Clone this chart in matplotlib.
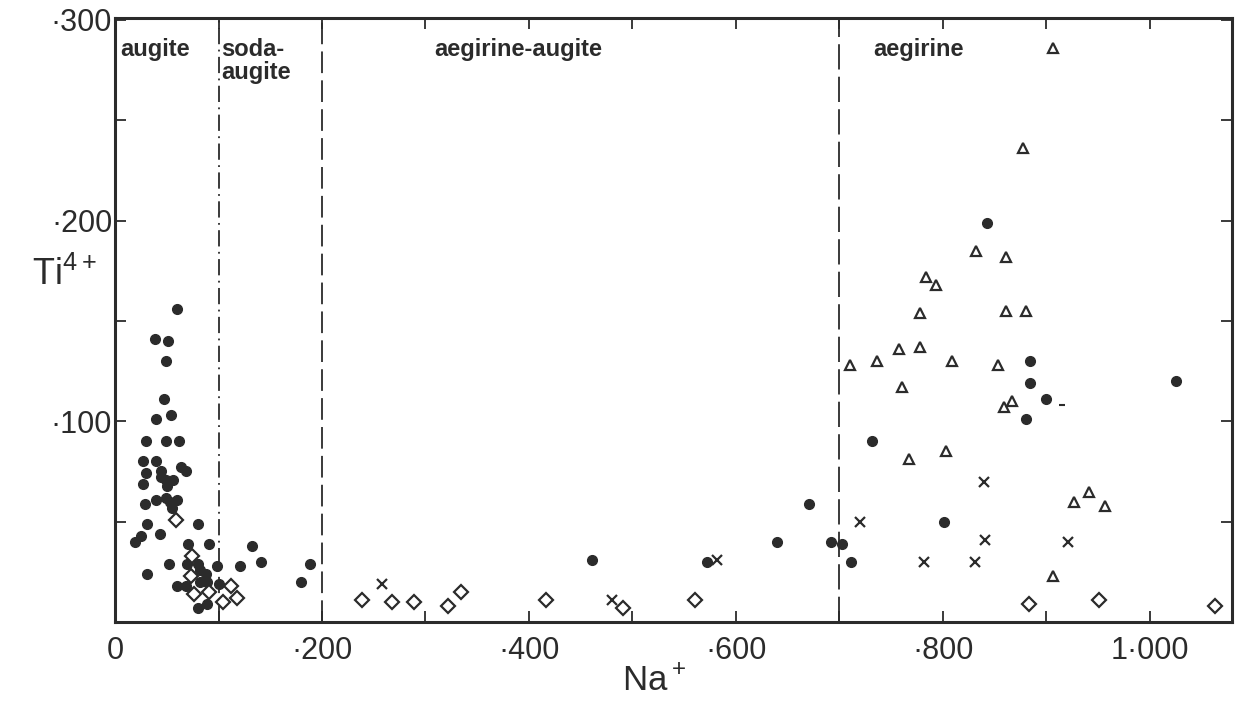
import matplotlib
matplotlib.use("Agg")
import matplotlib.pyplot as plt
from matplotlib.ticker import FixedLocator, MultipleLocator

plt.rcParams["font.family"] = ["Liberation Sans", "DejaVu Sans"]
plt.rcParams["mathtext.default"] = "regular"

ink = "#2b2b2b"

# filled circles
circ_na = [0.060, 0.039, 0.051, 0.049, 0.047, 0.040, 0.054, 0.030, 0.049, 0.062,
           0.027, 0.040, 0.030, 0.044, 0.064, 0.069, 0.027, 0.044, 0.049, 0.056,
           0.050, 0.029, 0.040, 0.049, 0.053, 0.060, 0.055, 0.080, 0.031, 0.025,
           0.019, 0.043, 0.071, 0.091, 0.132, 0.031, 0.052, 0.070, 0.080, 0.099,
           0.121, 0.141, 0.188, 0.180, 0.082, 0.089, 0.100, 0.069, 0.060, 0.080,
           0.089, 0.088, 0.082,
           0.461, 0.572, 0.640, 0.671, 0.692, 0.702, 0.711, 0.731, 0.801, 0.880,
           0.900, 0.843, 0.884, 0.884, 1.025]
circ_ti = [0.156, 0.141, 0.140, 0.130, 0.111, 0.101, 0.103, 0.090, 0.090, 0.090,
           0.080, 0.080, 0.074, 0.075, 0.077, 0.075, 0.069, 0.072, 0.071, 0.071,
           0.068, 0.059, 0.061, 0.062, 0.060, 0.061, 0.057, 0.049, 0.049, 0.043,
           0.040, 0.044, 0.039, 0.039, 0.038, 0.024, 0.029, 0.029, 0.029, 0.028,
           0.028, 0.030, 0.029, 0.020, 0.020, 0.020, 0.019, 0.018, 0.018, 0.007,
           0.009, 0.024, 0.026,
           0.031, 0.030, 0.040, 0.059, 0.040, 0.039, 0.030, 0.090, 0.050, 0.101,
           0.111, 0.199, 0.130, 0.119, 0.120]

# open diamonds
diam_na = [0.059, 0.074, 0.073, 0.076, 0.091, 0.112, 0.118, 0.104,
           0.239, 0.268, 0.289, 0.322, 0.334, 0.416, 0.491, 0.560,
           0.883, 0.951, 1.063]
diam_ti = [0.051, 0.033, 0.023, 0.014, 0.015, 0.018, 0.012, 0.010,
           0.011, 0.010, 0.010, 0.008, 0.015, 0.011, 0.007, 0.011,
           0.009, 0.011, 0.008]

# open triangles
tri_na = [0.710, 0.736, 0.758, 0.778, 0.760, 0.767, 0.778, 0.784, 0.793, 0.803,
          0.809, 0.832, 0.853, 0.859, 0.867, 0.861, 0.861, 0.880, 0.877, 0.906,
          0.906, 0.927, 0.941, 0.957]
tri_ti = [0.128, 0.130, 0.136, 0.137, 0.117, 0.081, 0.154, 0.172, 0.168, 0.085,
          0.130, 0.185, 0.128, 0.107, 0.110, 0.182, 0.155, 0.155, 0.236, 0.286,
          0.023, 0.060, 0.065, 0.058]

# crosses
cross_na = [0.258, 0.480, 0.582, 0.720, 0.782, 0.831, 0.840, 0.841, 0.921]
cross_ti = [0.019, 0.011, 0.031, 0.050, 0.030, 0.030, 0.070, 0.041, 0.040]

# stray dash
dash_na = [0.915]
dash_ti = [0.108]

boundaries = [0.1, 0.2, 0.7]
fields = ["augite", "soda-\naugite", "aegirine-augite", "aegirine"]
field_x = [0.005, 0.103, 0.39, 0.733]
field_ha = ["left", "left", "center", "left"]

x_ticks = [0, 0.2, 0.4, 0.6, 0.8, 1.0]
x_labels = ["0", "·200", "·400", "·600", "·800", "1·000"]
y_ticks = [0.1, 0.2, 0.3]
y_labels = ["·100", "·200", "·300"]

fig = plt.figure(figsize=(12.38, 7.04), dpi=100)
ax = fig.add_axes([0.0929, 0.1165, 0.9020, 0.8580])

ax.plot(circ_na, circ_ti, "o", ms=7, color=ink, mec=ink, ls="none")
ax.plot(diam_na, diam_ti, "D", ms=7, mfc="white", mec=ink, mew=1.6, ls="none")
ax.plot(tri_na, tri_ti, "^", ms=6.5, mfc="white", mec=ink, mew=1.6, ls="none")
ax.plot(cross_na, cross_ti, "x", ms=6.5, color=ink, mew=1.6, ls="none")
ax.plot(dash_na, dash_ti, "_", ms=4, color=ink, mew=1.5, ls="none")

styles = [(0, (9, 3, 1, 3)), (0, (12, 4)), (0, (14, 4))]
for bx, st in zip(boundaries, styles):
    ax.axvline(bx, color=ink, lw=1.3, ls=st, zorder=0)

for name, fx, ha in zip(fields, field_x, field_ha):
    ax.text(fx, 0.291, name, ha=ha, va="top", fontsize=17, fontweight="bold",
            color=ink, linespacing=1.0)

ax.set_xlim(0, 1.079)
ax.set_ylim(0, 0.301)

ax.xaxis.set_major_locator(FixedLocator(x_ticks))
ax.set_xticklabels(x_labels)
ax.xaxis.set_minor_locator(MultipleLocator(0.1))
ax.yaxis.set_major_locator(FixedLocator(y_ticks))
ax.set_yticklabels(y_labels)
ax.yaxis.set_minor_locator(MultipleLocator(0.05))

ax.tick_params(which="both", direction="in", top=True, right=True,
               color=ink, width=1.3, labelsize=22, labelcolor=ink)
ax.tick_params(which="major", length=8)
ax.tick_params(which="minor", length=8)
ax.tick_params(axis="x", pad=10)
ax.tick_params(axis="y", pad=2)

for sp in ax.spines.values():
    sp.set_linewidth(2.2)
    sp.set_color(ink)

ax.set_xlabel("Na$^+$", fontsize=25, color=ink)
ax.xaxis.set_label_coords(0.483, -0.072)
ax.set_ylabel("Ti$^{4+}$", fontsize=26, color=ink, rotation=0)
ax.yaxis.set_label_coords(-0.045, 0.545)

fig.savefig("out.png", dpi=100, facecolor="white")
